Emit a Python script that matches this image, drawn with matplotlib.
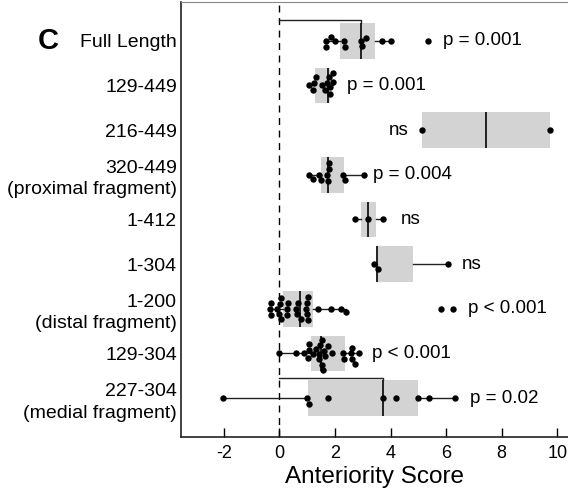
import numpy as np
import matplotlib
matplotlib.use("Agg")
import matplotlib.pyplot as plt

plt.rcParams['font.family'] = ['Liberation Sans', 'DejaVu Sans']
plt.rcParams['axes.unicode_minus'] = False

# constructs, top to bottom
labels = ["Full Length", "129-449", "216-449", "320-449\n(proximal fragment)",
          "1-412", "1-304", "1-200\n(distal fragment)", "129-304",
          "227-304\n(medial fragment)"]

# individual anteriority scores
pts_full = [1.68, 1.68, 1.84, 2.0, 2.34, 2.36, 2.92, 2.97, 3.1, 3.71, 4.02, 5.36]
pts_129_449 = [1.08, 1.2, 1.26, 1.3, 1.52, 1.64, 1.7, 1.8, 1.81, 1.82, 1.92, 1.94]
pts_216_449 = [5.14, 9.74]
pts_320_449 = [1.06, 1.22, 1.42, 1.5, 1.72, 1.75, 1.78, 1.8, 2.3, 2.36, 3.05]
pts_1_412 = [2.72, 3.18, 3.74]
pts_1_304 = [3.42, 3.54, 6.06]
pts_1_200 = [-0.34, -0.32, -0.3, -0.1, 0.0, 0.02, 0.06, 0.06, 0.28, 0.28, 0.32,
             0.58, 0.62, 0.66, 0.76, 0.94, 0.98, 1.0, 1.02, 1.02, 1.38, 1.86,
             2.22, 2.4, 5.8, 6.24]
pts_129_304 = [0.0, 0.6, 0.9, 1.04, 1.06, 1.08, 1.2, 1.3, 1.42, 1.44, 1.46, 1.52,
               1.54, 1.56, 1.6, 1.65, 1.74, 1.88, 2.3, 2.34, 2.56, 2.6, 2.62,
               2.72, 2.88]
pts_227_304 = [-2.04, 1.01, 1.06, 1.74, 3.73, 4.2, 4.98, 5.4, 6.32]
points = [pts_full, pts_129_449, pts_216_449, pts_320_449, pts_1_412,
          pts_1_304, pts_1_200, pts_129_304, pts_227_304]

# box summaries as drawn
q1 = [2.18, 1.29, 5.14, 1.5, 2.95, 3.51, 0.12, 1.12, 1.04]
med = [2.92, 1.74, 7.44, 1.76, 3.18, 3.51, 0.74, 1.5, 3.73]
q3 = [3.44, 1.82, 9.74, 2.32, 3.48, 4.8, 1.2, 2.36, 4.98]
whis_lo = [1.68, 1.08, 5.14, 1.06, 2.72, 3.42, -0.34, 0.0, -2.04]
whis_hi = [4.02, 1.94, 9.74, 3.05, 3.74, 6.06, 2.4, 2.88, 6.32]

pvals = ["p = 0.001", "p = 0.001", "ns", "p = 0.004", "ns", "ns",
         "p < 0.001", "p < 0.001", "p = 0.02"]
pval_x = [5.88, 2.42, 4.65, 3.36, 4.38, 6.56, 6.8, 3.32, 6.85]


def swarm(vals, xscale, yscale, d):
    # simple beeswarm: put each point at the smallest free vertical offset
    order = np.argsort(vals)
    xs = np.asarray(vals, float) * xscale
    placed = []
    offs = np.zeros(len(vals))
    for i in order:
        cands = [0.0]
        for (xj, yj) in placed:
            dx = abs(xs[i] - xj)
            if dx < d:
                h = np.sqrt(d * d - dx * dx)
                cands += [yj + h, yj - h]
        cands.sort(key=abs)
        for c in cands:
            if all((xs[i] - xj) ** 2 + (c - yj) ** 2 >= d * d - 1e-6
                   for (xj, yj) in placed):
                offs[i] = c
                break
        placed.append((xs[i], offs[i]))
    return offs / yscale


fig = plt.figure(figsize=(5.68, 4.92), dpi=100)
ax = fig.add_axes([0.3187, 0.112, 0.683, 0.884])

ypos = np.arange(len(labels))
stats = []
for i in range(len(labels)):
    stats.append(dict(med=med[i], q1=q1[i], q3=q3[i], whislo=whis_lo[i],
                      whishi=whis_hi[i], fliers=[]))

ax.bxp(stats, positions=ypos, widths=0.8, orientation='horizontal',
       patch_artist=True, showcaps=False, showfliers=False,
       boxprops=dict(facecolor='#d3d3d3', edgecolor='none'),
       whiskerprops=dict(color='#222222', linewidth=1.0),
       medianprops=dict(color='#222222', linewidth=1.4))

ax.axvline(0, color='black', linewidth=1.0, dashes=(5, 4), zorder=1)

# px per data unit, used to keep the swarm dots from overlapping
xscale = 27.8
yscale = 44.6
for i, vals in enumerate(points):
    offs = swarm(vals, xscale, yscale, 5.8)
    ax.plot(vals, ypos[i] + offs, 'o', color='black', markersize=4.6,
            markeredgewidth=0, zorder=4)

# brackets from zero to the median
for i in [0, 8]:
    yb = ypos[i] - 0.46
    ax.plot([0, med[i], med[i]], [yb, yb, ypos[i] - 0.4], color='#222222',
            linewidth=1.0, zorder=3)

for i, t in enumerate(pvals):
    ha = 'right' if i == 2 else 'left'
    ax.text(pval_x[i], ypos[i], t, ha=ha, va='center', fontsize=13.5)

ax.set_xlim(-3.54, 10.42)
ax.set_ylim(len(labels) - 0.13, -0.87)
ax.set_xticks([-2, 0, 2, 4, 6, 8, 10])
ax.set_yticks(ypos)
ax.set_yticklabels(labels, linespacing=1.35)
ax.tick_params(axis='x', direction='in', length=6.5, width=1.0, labelsize=13,
               pad=6)
ax.tick_params(axis='y', length=0, labelsize=14, pad=3)
ax.set_xlabel("Anteriority Score", fontsize=17.5, labelpad=3)

ax.spines['right'].set_visible(False)
ax.spines['top'].set_color('#888888')
ax.spines['top'].set_linewidth(0.8)
for s in ['left', 'bottom']:
    ax.spines[s].set_color('#222222')
    ax.spines[s].set_linewidth(1.2)

fig.text(0.067, 0.917, "C", fontsize=21, fontweight='bold', ha='left',
         va='center')

fig.savefig("out.png", dpi=100)
